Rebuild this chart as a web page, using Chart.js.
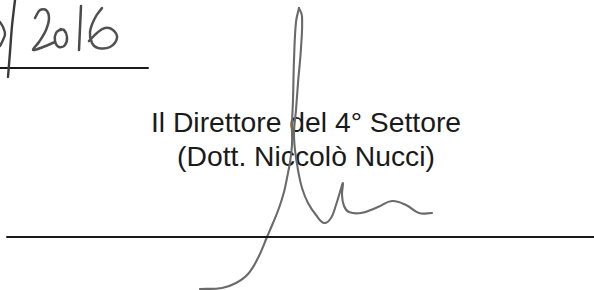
<!DOCTYPE html>
<html>
<head>
<meta charset="utf-8">
<script src="https://cdn.jsdelivr.net/npm/chart.js@4/dist/chart.umd.min.js"></script>
<style>
  html, body { margin:0; padding:0; background:#fff; }
  #wrap { position:relative; width:594px; height:290px; overflow:hidden; background:#fff; }
  .txt { position:absolute; left:0; width:612px; text-align:center; font-family:"Liberation Sans", Arial, sans-serif; font-size:28.3px; line-height:28.3px; color:#1a1a1a; white-space:nowrap; }
  #c { position:absolute; left:0; top:0; z-index:2; }
</style>
</head>
<body>
<div id="wrap">
  <div class="txt" style="top:108px;">Il Direttore del 4° Settore</div>
  <div class="txt" style="top:142px;">(Dott. Niccolò Nucci)</div>
  <canvas id="c" width="594" height="290"></canvas>
</div>
<script>
// Ink strokes, as [x, y] pairs in page pixels
const dateThree   = [[0,22],[3,27],[5,34],[3,40],[0,46]];
const dateSlash   = [[15,0],[12,26],[10,52],[8,77]];
const dateTwo     = [[35,18],[40,10],[46,10],[49,18],[46,30],[39,42],[33,50],[43,47],[55,42]];
const dateZero    = [[61,29],[56,33],[55,41],[59,47],[65,45],[67,37],[64,30],[60,30]];
const dateOne     = [[81,6],[80,28],[79,50]];
const dateSix     = [[102,8],[95,18],[90,32],[92,43],[98,48],[110,47],[117,38],[113,30],[105,28],[97,33],[89,41]];
const dateRule    = [[0,68],[148,68]];
const signRule    = [[7,237],[594,237]];
const signLoopLeft  = [[299,8],[296,22],[294,60],[293,100],[292,125],[292,145],[290,162],[287,178],[284,192],[279,208],[273,223],[267,237],[258,258],[248,274],[236,283],[222,288],[200,289]];
const signLoopRight = [[299,8],[302,16],[301,48],[298,83],[296,110],[294,132],[295,150],[298,170],[302,188],[308,203],[316,215],[324,223],[331,218],[336,205],[340,192],[343,183],[342,195],[344,206],[349,212],[361,213],[378,207],[392,201],[406,205],[419,213],[432,213]];

const strokes = [
  {pts: dateThree, color:'#4a4a4a', w:2.4, t:0.4},
  {pts: dateSlash, color:'#3a3a3a', w:2.4, t:0.3},
  {pts: dateTwo,   color:'#4e4e4e', w:2.5, t:0.35},
  {pts: dateZero,  color:'#4e4e4e', w:2.5, t:0.4},
  {pts: dateOne,   color:'#4a4a4a', w:2.5, t:0.3},
  {pts: dateSix,   color:'#525252', w:2.5, t:0.4},
  {pts: dateRule,  color:'#1a1a1a', w:2,   t:0},
  {pts: signRule,  color:'#1a1a1a', w:2,   t:0},
  {pts: signLoopLeft,  color:'#6a6a6a', w:2.1, t:0.4},
  {pts: signLoopRight, color:'#6a6a6a', w:2.1, t:0.4}
];

new Chart(document.getElementById('c'), {
  type: 'scatter',
  data: {
    datasets: strokes.map(s => ({
      data: s.pts.map(p => ({x:p[0], y:p[1]})),
      showLine: true,
      borderColor: s.color,
      borderWidth: s.w,
      tension: s.t,
      pointRadius: 0,
      pointHoverRadius: 0,
      fill: false,
      clip: false,
      borderCapStyle: 'round',
      borderJoinStyle: 'round'
    }))
  },
  options: {
    responsive: false,
    animation: false,
    events: [],
    layout: { padding: 0 },
    plugins: { legend: { display:false }, tooltip: { enabled:false }, title: { display:false } },
    scales: {
      x: { type:'linear', min:0, max:594, display:false },
      y: { type:'linear', min:0, max:290, reverse:true, display:false }
    }
  }
});
</script>
</body>
</html>
